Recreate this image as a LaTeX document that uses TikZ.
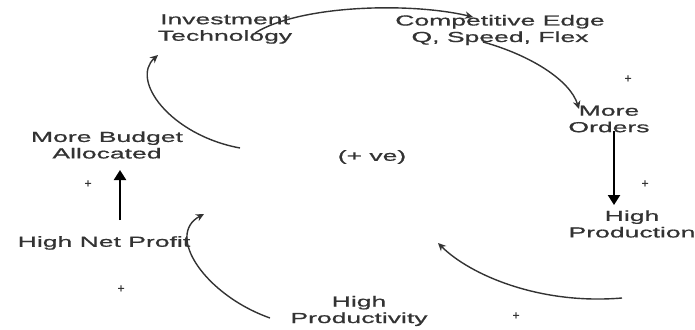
\documentclass[tikz,border=0pt]{standalone}
\usepackage{fontspec}
\newfontfamily\lblfont[FakeStretch=1.83,FakeBold=0.8]{Liberation Sans}
\newfontfamily\plusfont[FakeBold=1.5]{Liberation Sans}
\usetikzlibrary{arrows.meta}
\definecolor{ink}{HTML}{333333}
\tikzset{
  lbl/.style={font=\lblfont\fontsize{14.5}{16.5}\selectfont, text=ink, align=center, inner sep=0pt},
  pls/.style={font=\plusfont\fontsize{12}{12}\selectfont, text=ink, inner sep=0pt},
  curvearrow/.style={draw=ink, line width=1.4pt, -{Stealth[length=8pt,width=7.5pt]}},
  thickarrow/.style={draw=black, line width=2.2pt, -{Triangle[length=10pt,width=12pt]}}
}
\begin{document}
\begin{tikzpicture}[x=1pt,y=-1pt]
\useasboundingbox (0,0) rectangle (695,329);
% labels
\node[lbl] (inv) at (225,29) {Investment\\Technology};
\node[lbl] (comp) at (500,30) {Competitive Edge\\Q, Speed, Flex};
\node[lbl] (orders) at (609,119) {More\\Orders};
\node[lbl] (prod) at (632,224) {High\\Production};
\node[lbl] (prodty) at (359,311) {High\\Productivity};
\node[lbl] (profit) at (104,243) {High Net Profit};
\node[lbl] (budget) at (107,145) {More Budget\\Allocated};
\node[lbl] (ve) at (372,157) {(+ ve)};
% plus marks
\node[pls] (p1) at (628,79) {+};
\node[pls] (p2) at (645,184) {+};
\node[pls] (p3) at (88,184) {+};
\node[pls] (p4) at (121,289) {+};
\node[pls] (p5) at (516,316) {+};
% connector end points
\coordinate (c1s) at (255,33);
\coordinate (c1e) at (473,17);
\coordinate (c2s) at (483,42);
\coordinate (c2e) at (579,109);
\coordinate (c4s) at (622,298);
\coordinate (c4e) at (438,243);
\coordinate (c5s) at (270,318);
\coordinate (c5e) at (204,214);
\coordinate (c7s) at (240,148);
\coordinate (c7e) at (158,55);
\coordinate (v1s) at (614,131);
\coordinate (v1e) at (614,205);
\coordinate (v2s) at (120,220);
\coordinate (v2e) at (120,170);
% connectors
\draw[curvearrow] (c1s) .. controls (300,5) and (410,2) .. (c1e);
\draw[curvearrow] (c2s) .. controls (530,55) and (570,80) .. (c2e);
\draw[thickarrow] (v1s) -- (v1e);
\draw[curvearrow] (c4s) .. controls (540,305) and (470,275) .. (c4e);
\draw[curvearrow] (c5s) .. controls (205,295) and (165,235) .. (c5e);
\draw[thickarrow] (v2s) -- (v2e);
\draw[curvearrow] (c7s) .. controls (170,135) and (130,80) .. (c7e);
\end{tikzpicture}
\end{document}
